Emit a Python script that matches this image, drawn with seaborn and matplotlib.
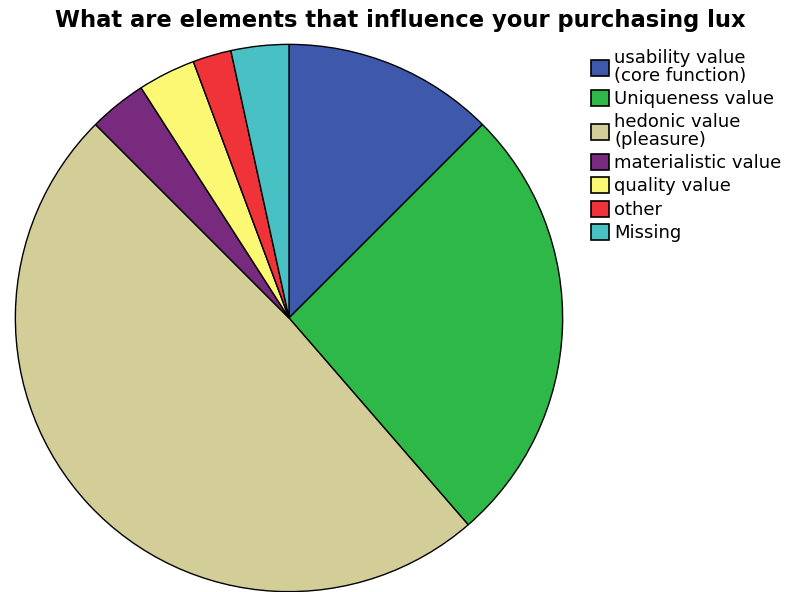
import matplotlib
matplotlib.use("Agg")
import matplotlib.pyplot as plt
import seaborn as sns

categories = ["usability value\n(core function)", "Uniqueness value", "hedonic value\n(pleasure)",
              "materialistic value", "quality value", "other", "Missing"]
counts = [11, 23, 43, 3, 3, 2, 3]
colors = ["#3E58AC", "#2EB848", "#D3CE97", "#782A7F", "#FBF873", "#EF3338", "#48C0C4"]

sns.set_theme(style="white")
plt.rcParams["font.family"] = ["DejaVu Sans"]

fig = plt.figure(figsize=(7.92, 5.92), dpi=100)
ax = fig.add_axes([14 / 792, (592 - 593) / 592, 550 / 792, 550 / 592])
wedges, _ = ax.pie(counts, colors=sns.color_palette(colors), startangle=90, counterclock=False,
                   wedgeprops=dict(edgecolor="black", linewidth=1.0))
ax.set_xlim(-1.005, 1.005)
ax.set_ylim(-1.005, 1.005)
ax.axis("off")

fig.text(400 / 792, 1 - 21 / 592, "What are elements that influence your purchasing lux",
         ha="center", va="center", fontsize=16.3, fontweight="bold", color="black")

leg = fig.legend(wedges, categories, loc="upper left", bbox_to_anchor=(591 / 792, 1 - 49 / 592),
                 frameon=False, fontsize=13, handlelength=1.0, handleheight=1.0,
                 handletextpad=0.3, labelspacing=0.28, borderpad=0, borderaxespad=0)
for t in leg.get_texts():
    t.set_linespacing(0.98)
    t.set_color("black")
for h in leg.legend_handles:
    h.set_linewidth(1.2)

fig.savefig("out.png", dpi=100)
